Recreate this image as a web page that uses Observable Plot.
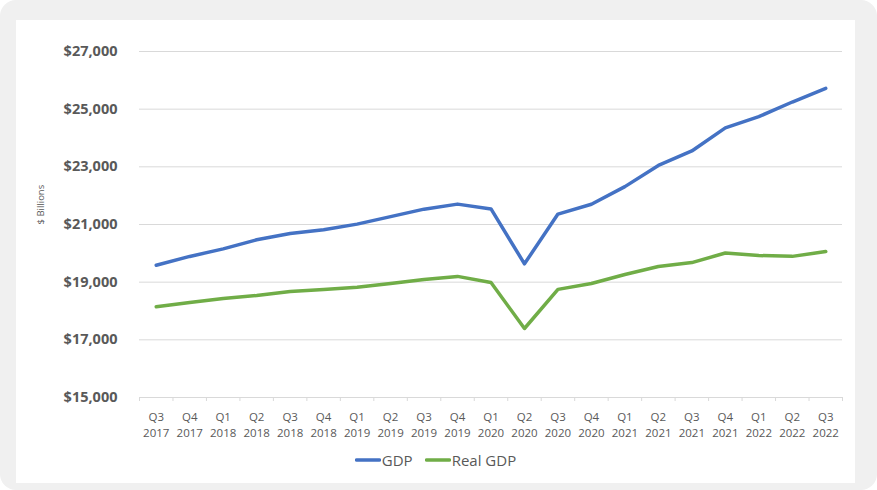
<!DOCTYPE html>
<html>
<head>
<meta charset="utf-8">
<script src="https://cdn.jsdelivr.net/npm/d3@7"></script>
<script src="https://cdn.jsdelivr.net/npm/@observablehq/plot@0.6"></script>
<style>
  html, body { margin: 0; padding: 0; background: #ffffff; }
  #outer { position: absolute; left: 0; top: 0; width: 877px; height: 490px; background: #f0f0f0; border-radius: 16px; overflow: hidden; }
  #panel { position: absolute; left: 16px; top: 20px; width: 839px; height: 463px; background: #ffffff; }
  #legend { position: absolute; left: 0; width: 839px; top: 430px; display: flex; justify-content: center; align-items: center; gap: 12px;
            font-family: "Open Sans", sans-serif; font-size: 15px; color: #595959; }
  .item { display: flex; align-items: center; }
  .item svg { margin-right: 1px; }
</style>
</head>
<body>
<div id="outer"><div id="panel"><div id="chart"></div><div id="legend"></div></div></div>
<script>
const quarters = ["Q3","Q4","Q1","Q2","Q3","Q4","Q1","Q2","Q3","Q4","Q1","Q2","Q3","Q4","Q1","Q2","Q3","Q4","Q1","Q2","Q3"];
const years = ["2017","2017","2018","2018","2018","2018","2019","2019","2019","2019","2020","2020","2020","2020","2021","2021","2021","2021","2022","2022","2022"];
const gdp = [19588, 19893, 20155, 20470, 20688, 20819, 21013, 21272, 21532, 21707, 21539, 19636, 21362, 21704, 22314, 23047, 23550, 24350, 24740, 25248, 25724];
const realGdp = [18150, 18295, 18434, 18540, 18677, 18746, 18820, 18954, 19093, 19200, 18989, 17393, 18750, 18954, 19266, 19544, 19680, 20010, 19925, 19895, 20060];
const seriesNames = ["GDP", "Real GDP"];
const seriesColors = ["#4472C4", "#70AD47"];
const yTicks = [15000, 17000, 19000, 21000, 23000, 25000, 27000];

const rows = [];
gdp.forEach((v, i) => rows.push({pos: i + 0.5, series: "GDP", value: v}));
realGdp.forEach((v, i) => rows.push({pos: i + 0.5, series: "Real GDP", value: v}));

const centers = quarters.map((q, i) => i + 0.5);
const bounds = d3.range(0, quarters.length + 1);
const fmt = d3.format(",");

const chart = Plot.plot({
  width: 839,
  height: 440,
  marginLeft: 123,
  marginRight: 13,
  marginTop: 31,
  marginBottom: 63,
  style: {fontFamily: "Open Sans, sans-serif", color: "#595959", background: "transparent"},
  x: {domain: [0, quarters.length], axis: null},
  y: {domain: [15000, 27000], axis: null},
  color: {domain: seriesNames, range: seriesColors},
  marks: [
    Plot.gridY({ticks: yTicks, stroke: "#d9d9d9", strokeOpacity: 1}),
    Plot.ruleY([15000], {stroke: "#d9d9d9"}),
    Plot.axisX({ticks: bounds, tickSize: 4, tickFormat: () => "", stroke: "#d9d9d9", strokeOpacity: 1, label: null}),
    Plot.axisX({ticks: centers, tickSize: 0, tickPadding: 12, lineHeight: 1.4, fontSize: 11.5, label: null,
      tickFormat: (d) => { const i = Math.round(d - 0.5); return quarters[i] + "\n" + years[i]; }}),
    Plot.axisY({ticks: yTicks, tickSize: 0, tickPadding: 22, fontSize: 14.5, fontWeight: "bold",
      tickFormat: (d) => "$" + fmt(d), label: null}),
    Plot.text(["$ Billions"], {frameAnchor: "left", dx: -99, rotate: -90, fontSize: 9.5, fill: "#595959"}),
    Plot.line(rows, {x: "pos", y: "value", z: "series", stroke: "series", strokeWidth: 3.5,
      strokeLinejoin: "round", strokeLinecap: "round"})
  ]
});
document.getElementById("chart").appendChild(chart);

const legend = document.getElementById("legend");
seriesNames.forEach((name, i) => {
  const item = document.createElement("div");
  item.className = "item";
  item.innerHTML = `<svg width="26" height="6"><line x1="1.5" y1="3" x2="24.5" y2="3" stroke="${seriesColors[i]}" stroke-width="3.5" stroke-linecap="round"/></svg><span>${name}</span>`;
  legend.appendChild(item);
});
</script>
</body>
</html>
